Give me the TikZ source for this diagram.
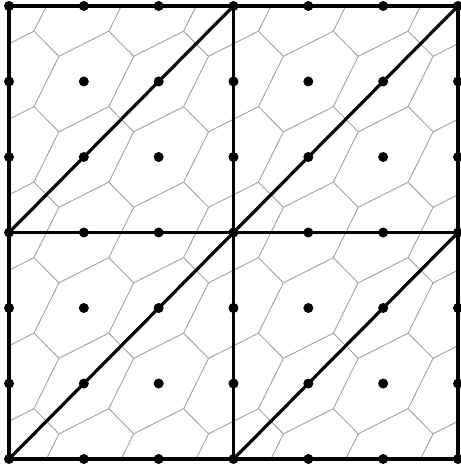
\documentclass[tikz,border=0pt]{standalone}
\begin{document}
\begin{tikzpicture}[x=1.4966cm,y=1.51cm,
  mesh/.style={draw=black!35, line width=0.55pt},
  frame/.style={draw=black, line width=1.8pt},
  dot/.style={circle, fill=black, inner sep=0pt, minimum size=0.2cm}]
\useasboundingbox (-0.1203,-0.0662) rectangle (6.027,6.0795);
\begin{scope}
  \clip (0,0) rectangle (6,6);
  \foreach \i in {-1,...,6} \foreach \j in {-1,...,6} {
    \draw[mesh] (\i+2/3,\j+1/3) -- (\i+1/3,\j+2/3);
    \draw[mesh] (\i+2/3,\j+1/3) -- (\i+1/3,\j-1/3);
    \draw[mesh] (\i+2/3,\j+1/3) -- (\i+4/3,\j+2/3);
  }
\end{scope}
\foreach \i in {0,...,6} \foreach \j in {0,...,6} \coordinate (p\i\j) at (\i,\j);
\draw[frame] (p00) rectangle (p66);
\draw[frame] (p30) -- (p36);
\draw[frame] (p03) -- (p63);
\draw[frame] (p00) -- (p33);
\draw[frame] (p30) -- (p63);
\draw[frame] (p03) -- (p36);
\draw[frame] (p33) -- (p66);
\foreach \i in {0,...,6} \foreach \j in {0,...,6} \node[dot] (d\i\j) at (p\i\j) {};
\end{tikzpicture}
\end{document}
